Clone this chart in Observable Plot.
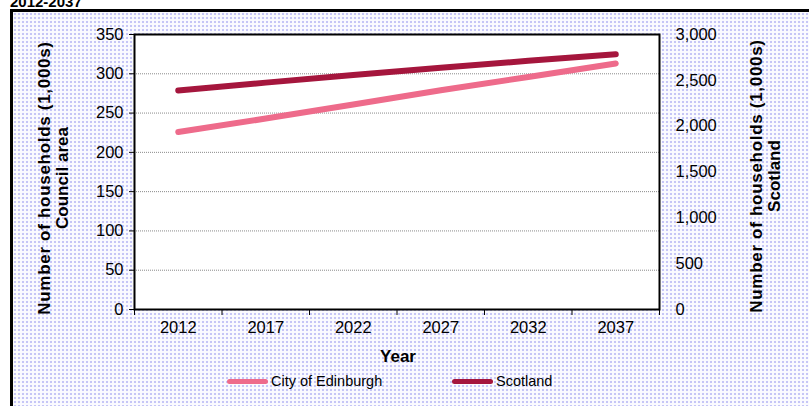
<!DOCTYPE html>
<html>
<head>
<meta charset="utf-8">
<script src="https://cdn.jsdelivr.net/npm/d3@7"></script>
<script src="https://cdn.jsdelivr.net/npm/@observablehq/plot@0.6"></script>
<style>
  html, body { margin: 0; padding: 0; width: 809px; height: 406px; overflow: hidden; background: white; font-family: "Liberation Sans", Arial, sans-serif; }
  #frame { position: absolute; left: 10px; top: 9px; width: 830px; height: 430px; border-top: 3px solid #000; border-left: 3px solid #000;
    background-color: #fbfbff;
    background-image: radial-gradient(circle, #c6c6f6 0.9px, rgba(255,255,255,0) 1.6px);
    background-size: 4px 4px; }
  #title { position: absolute; left: 10px; top: -7px; font: bold 15px "Liberation Sans", Arial, sans-serif; color: #000; white-space: nowrap; }
  #chart { position: absolute; left: 0; top: 0; }
  .ytitle { position: absolute; width: 340px; text-align: center; font: bold 17px "Liberation Sans", Arial, sans-serif; line-height: 18px; color: #000; transform: translate(-50%, -50%) rotate(-90deg); white-space: nowrap; }
  .ytitle .l1 { letter-spacing: 0.7px; }
  #xtitle { position: absolute; left: 398px; top: 357px; transform: translate(-50%, -50%); font: bold 17px "Liberation Sans", Arial, sans-serif; }
  .leg { position: absolute; top: 373px; display: flex; align-items: center; font: 14.5px "Liberation Sans", Arial, sans-serif; color: #000; }
  .leg span.sw { display: inline-block; width: 41px; height: 5px; border-radius: 3px; margin-right: 3px; }
</style>
</head>
<body>
<div id="title">2012-2037</div>
<div id="frame"></div>
<div id="chart"></div>
<div class="ytitle" style="left:54px; top:178px;"><span class="l1">Number of households (1,000s)</span><br>Council area</div>
<div class="ytitle" style="left:766px; top:176px;"><span class="l1">Number of households (1,000s)</span><br>Scotland</div>
<div id="xtitle">Year</div>
<div id="legend"></div>
<script>
const years = [2012, 2017, 2022, 2027, 2032, 2037];
const edinburgh = [226, 243, 261, 279, 296, 313];      // thousands, left axis
const scotland = [2389, 2475, 2558, 2637, 2713, 2785];  // thousands, right axis
const leftTicks = [0, 50, 100, 150, 200, 250, 300, 350];
const rightTicks = [0, 500, 1000, 1500, 2000, 2500, 3000];
const seriesNames = ["City of Edinburgh", "Scotland"];
const colors = ["#ee6b8b", "#a5163d"];

const leftMax = 350, rightMax = 3000;
const k = leftMax / rightMax;

const rows = [];
years.forEach((y, i) => {
  rows.push({year: y, value: edinburgh[i], series: seriesNames[0]});
  rows.push({year: y, value: scotland[i] * k, series: seriesNames[1]});
});

const step = years[1] - years[0];
const boundaries = years.map(y => y - step / 2).concat([years[years.length - 1] + step / 2]);

const chart = Plot.plot({
  width: 809,
  height: 406,
  marginLeft: 134,
  marginRight: 150,
  marginTop: 34,
  marginBottom: 97,
  style: {background: "transparent", fontFamily: "Liberation Sans, Arial, sans-serif", fontSize: "16.5px", color: "#000"},
  x: {domain: [boundaries[0], boundaries[boundaries.length - 1]], label: null},
  y: {domain: [0, leftMax], label: null},
  color: {domain: seriesNames, range: colors},
  marks: [
    Plot.frame({fill: "white", stroke: null}),
    Plot.ruleY(leftTicks.filter(t => t > 0 && t < leftMax), {stroke: "#8a8a8a", strokeWidth: 1, strokeDasharray: "1,1"}),
    Plot.line(rows, {x: "year", y: "value", z: "series", stroke: "series", strokeWidth: 6, strokeLinecap: "round", strokeLinejoin: "round"}),
    Plot.frame({stroke: "#000", strokeWidth: 2}),
    Plot.axisY({ticks: leftTicks, tickSize: 5, tickPadding: 6, tickFormat: d => String(d), fontSize: 16.5, label: null}),
    Plot.axisY({anchor: "right", ticks: rightTicks.map(t => t * k), tickSize: 0, tickPadding: 16, tickFormat: d => d3.format(",")(Math.round(d / k)), fontSize: 16.5, label: null}),
    Plot.axisX({ticks: boundaries, tickSize: 6, tickFormat: () => "", label: null}),
    Plot.axisX({ticks: years, tickSize: 0, tickPadding: 12, tickFormat: d => String(d), fontSize: 16.5, label: null}),
  ]
});
document.getElementById("chart").appendChild(chart);

const legendPos = [227, 452];
const legend = document.getElementById("legend");
seriesNames.forEach((name, i) => {
  const d = document.createElement("div");
  d.className = "leg";
  d.style.left = legendPos[i] + "px";
  d.innerHTML = `<span class="sw" style="background:${colors[i]}"></span>${name}`;
  legend.appendChild(d);
});
</script>
</body>
</html>
